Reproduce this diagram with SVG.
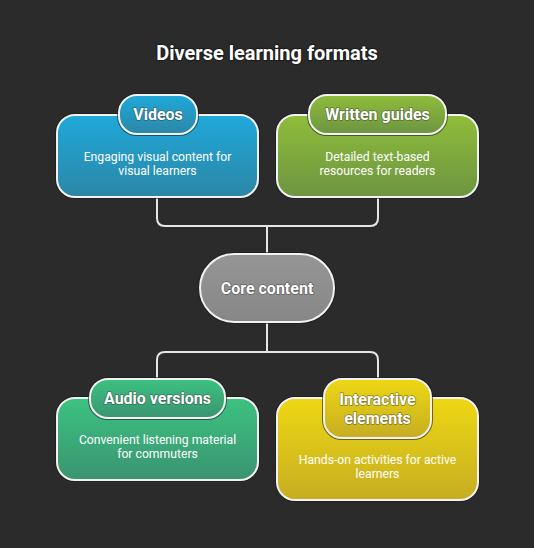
<svg xmlns="http://www.w3.org/2000/svg" width="534" height="548" viewBox="0 0 534 548">
<defs>
<linearGradient id="gBlue" x1="0" y1="0" x2="0" y2="1"><stop offset="0" stop-color="#1fa9da"/><stop offset="1" stop-color="#2c86a6"/></linearGradient>
<linearGradient id="gGreen" x1="0" y1="0" x2="0" y2="1"><stop offset="0" stop-color="#8fbd3a"/><stop offset="1" stop-color="#6d9441"/></linearGradient>
<linearGradient id="gTeal" x1="0" y1="0" x2="0" y2="1"><stop offset="0" stop-color="#3cc281"/><stop offset="1" stop-color="#3a9470"/></linearGradient>
<linearGradient id="gYellow" x1="0" y1="0" x2="0" y2="1"><stop offset="0" stop-color="#eed813"/><stop offset="1" stop-color="#c6ad22"/></linearGradient>
<linearGradient id="gGray" x1="0" y1="0" x2="0" y2="1"><stop offset="0" stop-color="#959595"/><stop offset="1" stop-color="#878787"/></linearGradient>
</defs>
<style>
.box{stroke:#f2f2f2;stroke-width:2}
.sh{fill:none;stroke:#1a1a1a;stroke-width:4;opacity:0.6}
.conn{fill:none;stroke:#e6e6e6;stroke-width:2}
text{font-family:Roboto,"Liberation Sans",sans-serif;fill:#ffffff;text-anchor:middle;dominant-baseline:central}
.title{font-size:20px;font-weight:bold;paint-order:stroke;stroke:#1e1e1e;stroke-width:2.5;stroke-linejoin:round}
.head{font-size:16px;font-weight:bold;paint-order:stroke;stroke:#333;stroke-opacity:0.5;stroke-width:1.5;stroke-linejoin:round}
.desc{font-size:12.2px}
</style>
<rect width="534" height="548" fill="#2b2b2b"/>
<text class="title" x="267" y="53">Diverse learning formats</text>
<g id="connectors">
<path class="conn" d="M157 197 V218 Q157 226 165 226 H370 Q378 226 378 218 V197"/>
<path class="conn" d="M267 226 V254"/>
<path class="conn" d="M267 322 V352"/>
<path class="conn" d="M157 379 V360 Q157 352 165 352 H370 Q378 352 378 360 V379"/>
</g>
<g id="videos">
<rect class="sh" x="57" y="115" width="201" height="82" rx="18"/>
<rect class="box" x="57" y="115" width="201" height="82" rx="18" fill="url(#gBlue)"/>
<rect class="sh" x="119" y="95" width="78" height="39" rx="18"/>
<rect class="box" x="119" y="95" width="78" height="39" rx="18" fill="url(#gBlue)"/>
<text class="head" x="158" y="114.5">Videos</text>
<text class="desc" x="157.5" y="157">Engaging visual content for</text>
<text class="desc" x="157.5" y="171">visual learners</text>
</g>
<g id="written-guides">
<rect class="sh" x="277" y="115" width="201" height="82" rx="18"/>
<rect class="box" x="277" y="115" width="201" height="82" rx="18" fill="url(#gGreen)"/>
<rect class="sh" x="309" y="95" width="137" height="39" rx="18"/>
<rect class="box" x="309" y="95" width="137" height="39" rx="18" fill="url(#gGreen)"/>
<text class="head" x="377.5" y="114.5">Written guides</text>
<text class="desc" x="377.5" y="157">Detailed text-based</text>
<text class="desc" x="377.5" y="171">resources for readers</text>
</g>
<g id="core-content">
<rect class="sh" x="200" y="254" width="134" height="68" rx="34"/>
<rect class="box" x="200" y="254" width="134" height="68" rx="34" fill="url(#gGray)"/>
<text class="head" x="267" y="288">Core content</text>
</g>
<g id="audio-versions">
<rect class="sh" x="57" y="398" width="201" height="82" rx="18"/>
<rect class="box" x="57" y="398" width="201" height="82" rx="18" fill="url(#gTeal)"/>
<rect class="sh" x="90" y="379" width="135" height="39" rx="18"/>
<rect class="box" x="90" y="379" width="135" height="39" rx="18" fill="url(#gTeal)"/>
<text class="head" x="157.5" y="398.5">Audio versions</text>
<text class="desc" x="157.5" y="440">Convenient listening material</text>
<text class="desc" x="157.5" y="454">for commuters</text>
</g>
<g id="interactive-elements">
<rect class="sh" x="277" y="398" width="201" height="102" rx="18"/>
<rect class="box" x="277" y="398" width="201" height="102" rx="18" fill="url(#gYellow)"/>
<rect class="sh" x="324" y="379" width="107" height="59" rx="18"/>
<rect class="box" x="324" y="379" width="107" height="59" rx="18" fill="url(#gYellow)"/>
<text class="head" x="377.5" y="399">Interactive</text>
<text class="head" x="377.5" y="418">elements</text>
<text class="desc" x="377.5" y="460">Hands-on activities for active</text>
<text class="desc" x="377.5" y="474">learners</text>
</g>
</svg>
